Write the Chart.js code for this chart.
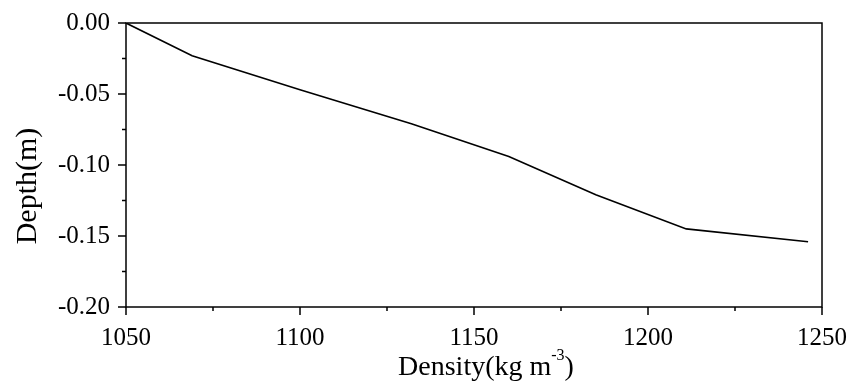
<!DOCTYPE html>
<html>
<head>
<meta charset="utf-8">
<script src="https://cdn.jsdelivr.net/npm/chart.js@4.4.1/dist/chart.umd.min.js"></script>
<style>
  html, body { margin: 0; padding: 0; background: #fff; }
  #wrap { width: 864px; height: 383px; }
</style>
</head>
<body>
<div id="wrap"><canvas id="myChart"></canvas></div>
<script>
// Density profile
const density = [1050, 1069, 1100, 1132, 1160, 1185, 1211, 1246];
const depth = [0, -0.023, -0.047, -0.071, -0.094, -0.121, -0.145, -0.154];

const xTicks = [1050, 1100, 1150, 1200, 1250];
const yTicks = [0, -0.05, -0.10, -0.15, -0.20];

const serif = '"Liberation Serif", "Times New Roman", serif';

// box around the plot, outward major/minor ticks, and both axis titles
const framePlugin = {
    id: 'frame',
    afterDraw(chart) {
        const ctx = chart.ctx;
        const a = chart.chartArea;
        const x = chart.scales.x;
        const y = chart.scales.y;
        ctx.save();
        ctx.strokeStyle = '#000';
        ctx.lineWidth = 1.5;
        ctx.strokeRect(a.left, a.top, a.right - a.left, a.bottom - a.top);

        ctx.beginPath();
        for (let i = 0; i < xTicks.length; i++) {
            const px = x.getPixelForValue(xTicks[i]);
            ctx.moveTo(px, a.bottom);
            ctx.lineTo(px, a.bottom + 8);
            if (i < xTicks.length - 1) {
                const mid = x.getPixelForValue((xTicks[i] + xTicks[i + 1]) / 2);
                ctx.moveTo(mid, a.bottom);
                ctx.lineTo(mid, a.bottom + 4);
            }
        }
        for (let i = 0; i < yTicks.length; i++) {
            const py = y.getPixelForValue(yTicks[i]);
            ctx.moveTo(a.left, py);
            ctx.lineTo(a.left - 8, py);
            if (i < yTicks.length - 1) {
                const mid = y.getPixelForValue((yTicks[i] + yTicks[i + 1]) / 2);
                ctx.moveTo(a.left, mid);
                ctx.lineTo(a.left - 4, mid);
            }
        }
        ctx.stroke();

        ctx.fillStyle = '#000';

        // y axis title, sits a bit below the middle like the original
        ctx.save();
        ctx.translate(28, 186);
        ctx.rotate(-Math.PI / 2);
        ctx.font = '30px ' + serif;
        ctx.textAlign = 'center';
        ctx.textBaseline = 'middle';
        ctx.fillText('Depth(m)', 0, 0);
        ctx.restore();

        // x axis title: Density(kg m^-3)
        const big = '28px ' + serif;
        const small = '16px ' + serif;
        ctx.textBaseline = 'alphabetic';
        ctx.textAlign = 'left';
        ctx.font = big;
        const w1 = ctx.measureText('Density(kg m').width;
        const w3 = ctx.measureText(')').width;
        ctx.font = small;
        const w2 = ctx.measureText('-3').width;
        const sx = (a.left + a.right) / 2 - (w1 + w2 + w3) / 2 + 12;
        const base = 375;
        ctx.font = big;
        ctx.fillText('Density(kg m', sx, base);
        ctx.font = small;
        ctx.fillText('-3', sx + w1, base - 15);
        ctx.font = big;
        ctx.fillText(')', sx + w1 + w2, base);
        ctx.restore();
    }
};

new Chart(document.getElementById('myChart'), {
    type: 'scatter',
    data: {
        datasets: [{
            data: density.map((d, i) => ({ x: d, y: depth[i] })),
            showLine: true,
            borderColor: '#000',
            borderWidth: 1.6,
            pointRadius: 0,
            tension: 0
        }]
    },
    options: {
        responsive: true,
        maintainAspectRatio: false,
        animation: false,
        layout: { padding: { top: 13, right: 42, left: 0, bottom: 0 } },
        plugins: { legend: { display: false }, tooltip: { enabled: false } },
        scales: {
            x: {
                type: 'linear',
                min: 1050,
                max: 1250,
                grid: { display: false },
                border: { display: false },
                ticks: {
                    stepSize: 50,
                    color: '#000',
                    padding: 8,
                    maxRotation: 0,
                    font: { family: serif, size: 25 },
                    callback: v => String(v)
                },
                afterFit: s => { s.height = 76; }
            },
            y: {
                min: -0.2,
                max: 0,
                grid: { display: false },
                border: { display: false },
                ticks: {
                    stepSize: 0.05,
                    color: '#000',
                    padding: 8,
                    font: { family: serif, size: 25 },
                    callback: v => (Math.abs(v) < 1e-9 ? 0 : v).toFixed(2)
                },
                afterFit: s => { s.width = 126; }
            }
        }
    },
    plugins: [framePlugin]
});
</script>
</body>
</html>
